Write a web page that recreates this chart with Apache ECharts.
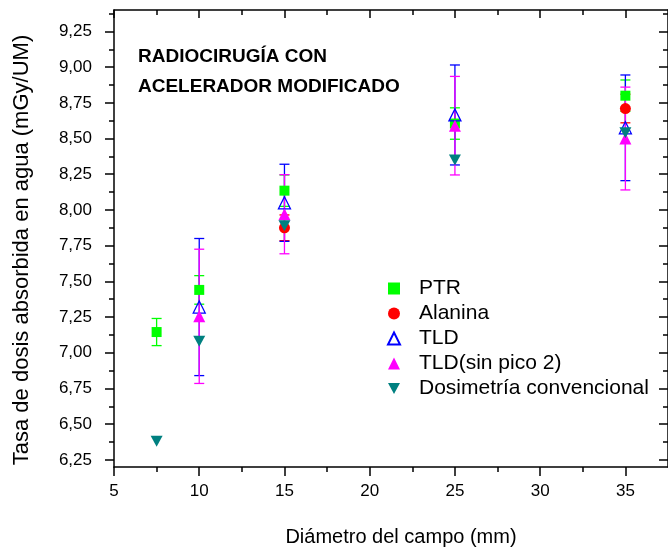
<!DOCTYPE html>
<html>
<head>
<meta charset="utf-8">
<script src="https://cdn.jsdelivr.net/npm/echarts@6/dist/echarts.min.js"></script>
<style>html,body{margin:0;padding:0;background:#fff}#c{width:668px;height:552px}</style>
</head>
<body>
<div id="c"></div>
<script>
// ---- data ----
const xVals = [7.5, 10, 15, 25, 35];
const ptr = [7.145, 7.44, 8.135, 8.605, 8.80];
const ptrErr = [0.095, 0.10, 0.11, 0.11, 0.11];
const alanina = [null, null, 7.875, null, 8.71];
const alaninaErr = [null, null, 0.09, null, 0.10];
const tld = [null, 7.32, 8.05, 8.665, 8.575];
const tldErr = [null, 0.48, 0.27, 0.35, 0.37];
const tld2 = [null, 7.255, 7.97, 8.59, 8.50];
const tld2Err = [null, 0.47, 0.277, 0.345, 0.36];
const conv = [6.38, 7.08, 7.89, 8.35, 8.54];
const xMajor = [5, 10, 15, 20, 25, 30, 35];
const xMinor = [7.5, 12.5, 17.5, 22.5, 27.5, 32.5];
const yMajor = [6.25, 6.5, 6.75, 7.0, 7.25, 7.5, 7.75, 8.0, 8.25, 8.5, 8.75, 9.0, 9.25];
const yMinor = [6.375, 6.625, 6.875, 7.125, 7.375, 7.625, 7.875, 8.125, 8.375, 8.625, 8.875, 9.125, 9.375];
const names = ['PTR', 'Alanina', 'TLD', 'TLD(sin pico 2)', 'Dosimetría convencional'];
const titleLines = ['RADIOCIRUGÍA CON', 'ACELERADOR MODIFICADO'];
const xTitle = 'Diámetro del campo (mm)';
const yTitle = 'Tasa de dosis absorbida en agua (mGy/UM)';

const FONT = '"Liberation Sans", Arial, sans-serif';
const X_MIN = 5, X_MAX = 37.5, Y_MIN = 6.2, Y_MAX = 9.4;
const DOWN_TRI = 'path://M0,0L10,0L5,9Z';

function pts(vals) {
  return xVals.map((x, i) => vals[i] == null ? null : [x, vals[i]]).filter(Boolean);
}
function errs(vals, e) {
  return xVals.map((x, i) => (vals[i] == null || e[i] == null) ? null : [x, vals[i] - e[i], vals[i] + e[i]]).filter(Boolean);
}
function errSeries(data, color) {
  return {
    type: 'custom', data: data, xAxisIndex: 0, yAxisIndex: 0, silent: true, z: 2,
    renderItem: function (params, api) {
      const lo = api.coord([api.value(0), api.value(1)]);
      const hi = api.coord([api.value(0), api.value(2)]);
      const hw = 5;
      const st = { stroke: color, lineWidth: 1.3 };
      return { type: 'group', children: [
        { type: 'line', shape: { x1: lo[0], y1: lo[1], x2: hi[0], y2: hi[1] }, style: st },
        { type: 'line', shape: { x1: lo[0] - hw, y1: lo[1], x2: lo[0] + hw, y2: lo[1] }, style: st },
        { type: 'line', shape: { x1: hi[0] - hw, y1: hi[1], x2: hi[0] + hw, y2: hi[1] }, style: st }
      ]};
    }
  };
}
const axLine = { show: true, lineStyle: { color: '#000', width: 1.5 } };
function xAx(pos, vals, len, inside, line, labels) {
  return {
    type: 'value', position: pos, min: X_MIN, max: X_MAX,
    axisLine: line ? axLine : { show: false },
    splitLine: { show: false },
    axisTick: { show: true, customValues: vals, length: len, inside: inside, lineStyle: { color: '#000', width: 1.5 } },
    axisLabel: labels ? { show: true, customValues: vals, fontSize: 17, color: '#000', fontFamily: FONT, margin: 16 } : { show: false },
    name: labels ? xTitle : '',
    nameLocation: 'middle', nameGap: 60,
    nameTextStyle: { fontSize: 20, color: '#000', fontFamily: FONT, padding: [0, 0, 0, 20] }
  };
}
function yAx(pos, vals, len, inside, line, labels) {
  return {
    type: 'value', position: pos, min: Y_MIN, max: Y_MAX,
    axisLine: line ? axLine : { show: false },
    splitLine: { show: false },
    axisTick: { show: true, customValues: vals, length: len, inside: inside, lineStyle: { color: '#000', width: 1.5 } },
    axisLabel: labels ? { show: true, customValues: vals, fontSize: 17, color: '#000', fontFamily: FONT, margin: 22,
      formatter: v => v.toFixed(2).replace('.', ',') } : { show: false }
  };
}

const legendData = names.map((n, i) => i === 4 ? { name: n, icon: DOWN_TRI } : { name: n });

const chart = echarts.init(document.getElementById('c'), null, { renderer: 'canvas' });
chart.setOption({
  animation: false,
  backgroundColor: '#fff',
  grid: { left: 114, right: -7, top: 10, bottom: 79, containLabel: false },
  xAxis: [
    xAx('bottom', xMajor, 9, false, true, true),
    xAx('bottom', xMinor, 5, false, false, false),
    xAx('top', xMajor, 8, true, true, false),
    xAx('top', xMinor, 5, true, false, false)
  ],
  yAxis: [
    yAx('left', yMajor, 9, false, true, true),
    yAx('left', yMinor, 5, false, false, false),
    yAx('right', yMajor, 9, true, true, false),
    yAx('right', yMinor, 5, true, false, false)
  ],
  legend: {
    data: legendData, orient: 'vertical', left: 382, top: 273,
    itemWidth: 12, itemHeight: 12, itemGap: 4,
    textStyle: { fontSize: 21, lineHeight: 21, color: '#000', fontFamily: FONT, padding: [0, 0, 0, 14] },
    selectedMode: false
  },
  graphic: [
    { type: 'text', left: 138, top: 42, style: { text: titleLines.join('\n'), font: 'bold 19px ' + FONT, fill: '#000', lineHeight: 30 } },
    { type: 'text', x: 22, y: 250, rotation: Math.PI / 2,
      style: { text: yTitle, font: '22px ' + FONT, fill: '#000', align: 'center', verticalAlign: 'middle' } }
  ],
  series: [
    errSeries(errs(ptr, ptrErr), '#00ff00'),
    { name: names[0], type: 'scatter', data: pts(ptr), symbol: 'rect', symbolSize: 10, z: 3,
      itemStyle: { color: '#00ff00', opacity: 1 } },
    errSeries(errs(alanina, alaninaErr), '#ff0000'),
    { name: names[1], type: 'scatter', data: pts(alanina), symbol: 'circle', symbolSize: 11, z: 3,
      itemStyle: { color: '#ff0000', opacity: 1 } },
    errSeries(errs(tld, tldErr), '#0000ff'),
    { name: names[2], type: 'scatter', data: pts(tld), symbol: 'triangle', symbolSize: 12, z: 3,
      itemStyle: { color: 'rgba(255,255,255,0)', borderColor: '#0000ff', borderWidth: 1.3, opacity: 1 } },
    errSeries(errs(tld2, tld2Err), '#ff00ff'),
    { name: names[3], type: 'scatter', data: pts(tld2), symbol: 'triangle', symbolSize: 12, z: 3,
      itemStyle: { color: '#ff00ff', opacity: 1 } },
    { name: names[4], type: 'scatter', data: pts(conv), symbol: DOWN_TRI, symbolSize: [12, 11], z: 3,
      itemStyle: { color: '#008080', opacity: 1 } }
  ]
});
</script>
</body>
</html>
